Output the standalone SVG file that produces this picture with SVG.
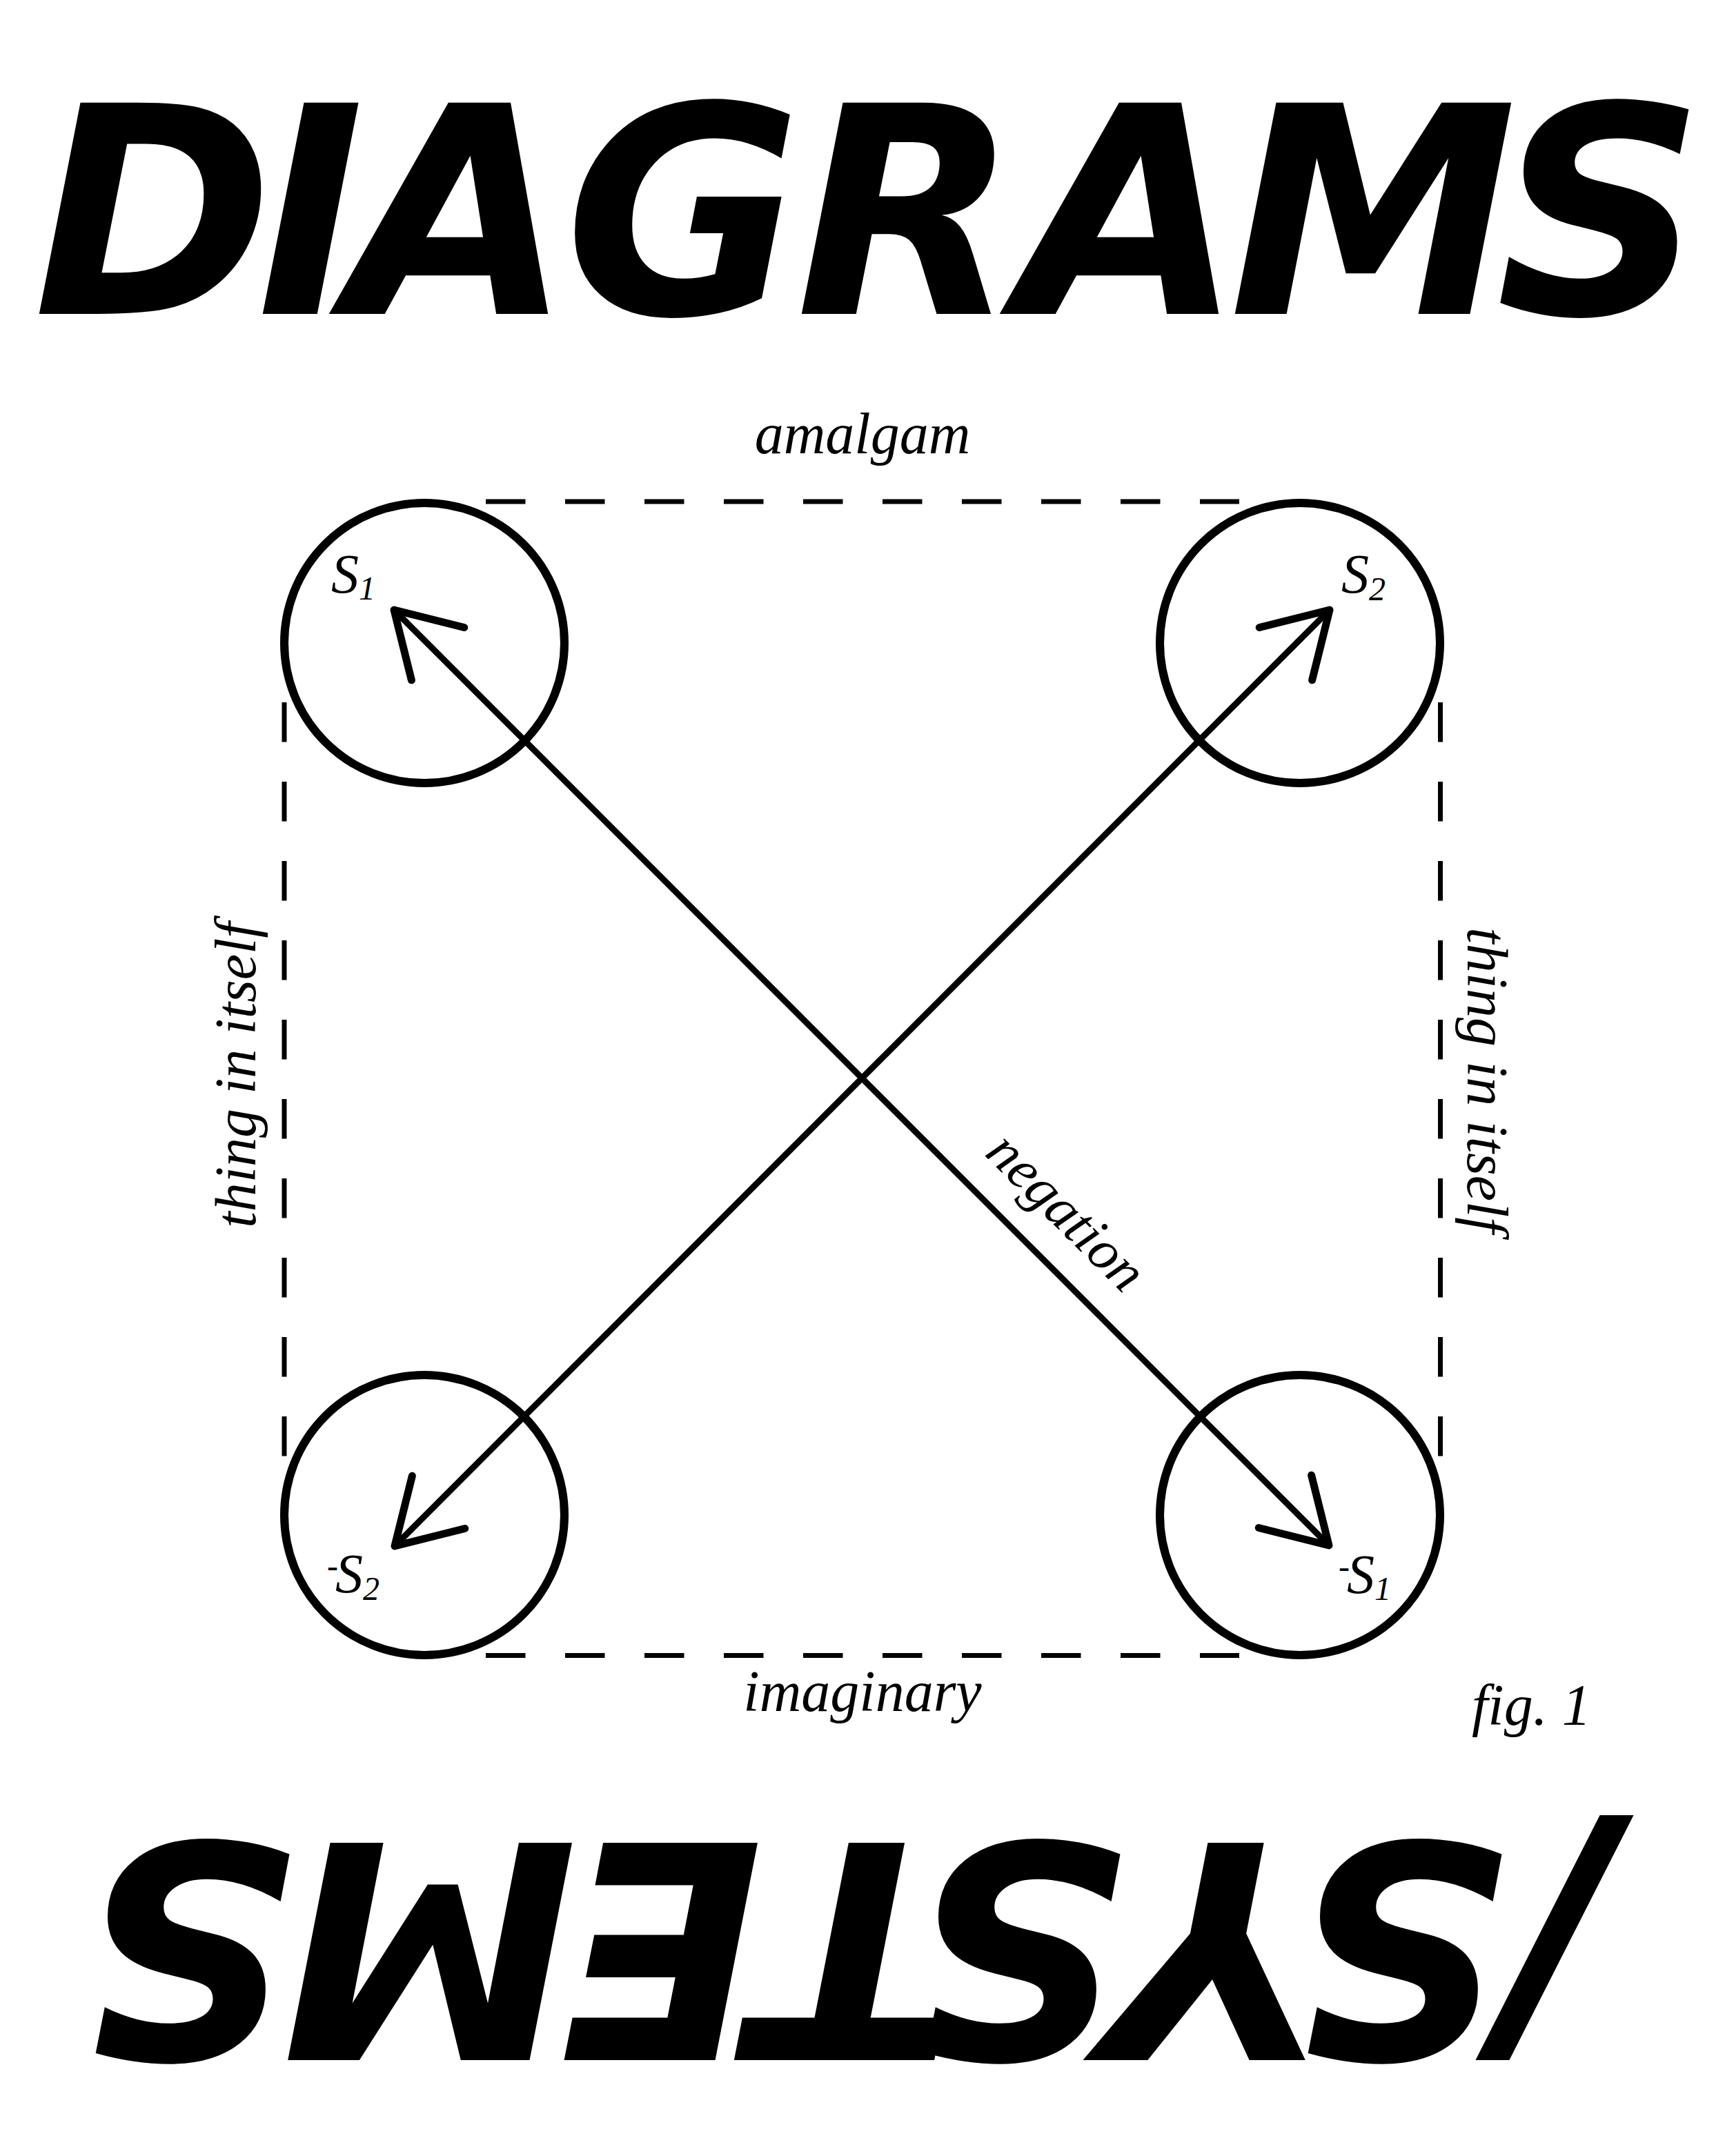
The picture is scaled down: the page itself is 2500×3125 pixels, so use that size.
<svg xmlns="http://www.w3.org/2000/svg" width="2500" height="3125" viewBox="0 0 2500 3125">
<defs>
<style>
.title{font-family:"DejaVu Sans","Liberation Sans",sans-serif;font-weight:700;font-style:italic;fill:#000}
.lbl{font-family:"Liberation Serif","Times New Roman",serif;font-style:italic;fill:#000}
.circle{fill:none;stroke:#000;stroke-width:12}
.dash{fill:none;stroke:#000;stroke-width:7;stroke-dasharray:57.5 57.5}
.arrow{fill:none;stroke:#000;stroke-width:9;marker-start:url(#ah);marker-end:url(#ah)}
</style>
<marker id="ah" markerUnits="userSpaceOnUse" viewBox="-110 -70 130 140" markerWidth="130" markerHeight="140" refX="0" refY="0" orient="auto-start-reverse" overflow="visible">
<path d="M-90,-54 L0,0 L-90,54" fill="none" stroke="#000" stroke-width="11" stroke-linecap="round" stroke-linejoin="round"/>
</marker>
</defs>
<rect width="2500" height="3125" fill="#fff"/>

<g id="title">
<text class="title" x="48 372 504 818 1153 1476 1781 2168" y="455" font-size="420">DIAGRAMS</text>
</g>

<g id="subtitle" transform="rotate(180 1250 2671)">
<text class="title" x="174 317 581 870 1113 1393 1662 2074" y="2671" font-size="432">/SYSTEMS</text>
</g>

<g id="connectors">
<line class="dash" x1="704" y1="727" x2="1796" y2="727"/>
<line class="dash" x1="704" y1="2399.5" x2="1796" y2="2399.5"/>
<line class="dash" x1="412" y1="1018" x2="412" y2="2111"/>
<line class="dash" x1="2087.5" y1="1018" x2="2087.5" y2="2111"/>
<line class="arrow" x1="571" y1="884" x2="1926" y2="2240"/>
<line class="arrow" x1="1927" y1="884" x2="572" y2="2241"/>
<text class="lbl" x="1250" y="657" font-size="84" text-anchor="middle">amalgam</text>
<text class="lbl" x="1250" y="2480" font-size="84" text-anchor="middle">imaginary</text>
<text class="lbl" font-size="84" text-anchor="middle" transform="translate(370 1558) rotate(-90)">thing in itself</text>
<text class="lbl" font-size="84" text-anchor="middle" transform="translate(2127 1566) rotate(90)">thing in itself</text>
<text class="lbl" font-size="82" text-anchor="middle" transform="translate(1527 1775) rotate(45)">negation</text>
</g>

<g id="node-s1">
<circle class="circle" cx="615" cy="932" r="203"/>
<text class="lbl" x="480" y="859" font-size="80">S<tspan font-size="48" dy="10">1</tspan></text>
</g>
<g id="node-s2">
<circle class="circle" cx="1884" cy="932" r="203"/>
<text class="lbl" x="1944" y="859" font-size="80">S<tspan font-size="48" dy="11">2</tspan></text>
</g>
<g id="node-not-s2">
<circle class="circle" cx="615" cy="2196" r="203"/>
<text class="lbl" y="2308" font-size="80"><tspan x="474" font-size="48" dy="-22">-</tspan><tspan x="486" dy="22">S</tspan><tspan font-size="48" dy="11">2</tspan></text>
</g>
<g id="node-not-s1">
<circle class="circle" cx="1884" cy="2196" r="203"/>
<text class="lbl" y="2309" font-size="80"><tspan x="1940" font-size="48" dy="-22">-</tspan><tspan x="1952" dy="22">S</tspan><tspan font-size="48" dy="10">1</tspan></text>
</g>

<g id="caption">
<text class="lbl" x="2133" y="2500" font-size="84">fig. 1</text>
</g>
</svg>
